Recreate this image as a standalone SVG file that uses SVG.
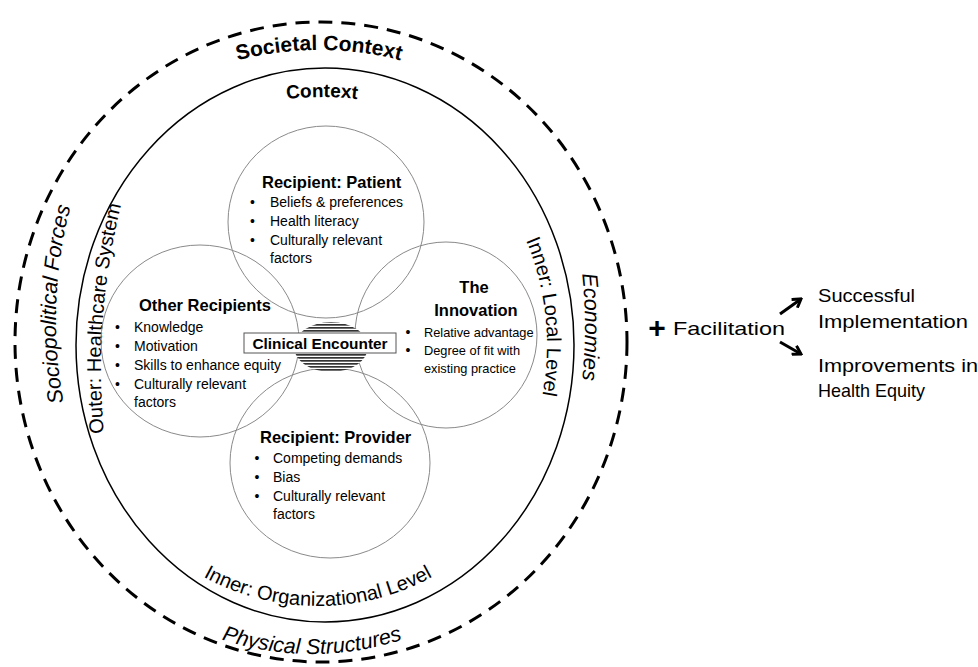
<svg xmlns="http://www.w3.org/2000/svg" width="978" height="667" viewBox="0 0 978 667">
<style>
  text { font-family: "Liberation Sans", Arial, sans-serif; fill: #000; }
  .hd { font-weight: bold; font-size: 16.5px; }
  .bl { font-size: 14px; }
  .sm { font-size: 12.8px; }
  .ring { fill: none; stroke: #8a8a8a; stroke-width: 1; }
  .lvl { font-size: 20px; }
  .it { font-style: italic; font-size: 21.5px; }
  .out { font-size: 19px; }
  .link { stroke: #000; stroke-width: 3; fill: none; marker-end: url(#chev); }
</style>
<defs>
  <pattern id="stripes" width="6" height="3" patternUnits="userSpaceOnUse">
    <rect width="6" height="3" fill="#ffffff"/>
    <rect width="6" height="1.7" fill="#333333"/>
  </pattern>
  <marker id="chev" viewBox="0 0 12 12" refX="10" refY="6" markerWidth="12" markerHeight="12" markerUnits="userSpaceOnUse" orient="auto">
    <path d="M2,1 L10,6 L2,11" fill="none" stroke="#000" stroke-width="3"/>
  </marker>
  <!-- baselines for the curved labels -->
  <path id="p-societal" d="M 219,65.7 A 326 326 0 0 1 419,65.7"/>
  <path id="p-context" d="M 262,103.1 A 300 300 0 0 1 382,103.1"/>
  <path id="p-socio" d="M 75.2,450 A 450 450 0 0 1 85.4,160"/>
  <path id="p-outer" d="M 108.3,470 A 689 689 0 0 1 133.8,160"/>
  <path id="p-local" d="M 498.7,190 A 273 273 0 0 1 526,450"/>
  <path id="p-econ" d="M 568.6,200 A 500 500 0 0 1 568.6,454"/>
  <path id="p-org" d="M 168,553.3 A 240 240 0 0 0 468,553.3"/>
  <path id="p-phys" d="M 162,612.2 A 290 290 0 0 0 462,612.2"/>
</defs>

<rect width="978" height="667" fill="#ffffff"/>

<!-- outer ring: societal context -->
<g id="societal-context">
  <ellipse cx="321" cy="342" rx="306" ry="320" fill="none" stroke="#000" stroke-width="3" stroke-dasharray="14 9"/>
  <text font-weight="bold" font-size="21px"><textPath href="#p-societal" startOffset="50%" text-anchor="middle">Societal Context</textPath></text>
  <text class="it"><textPath href="#p-socio" startOffset="50%" text-anchor="middle">Sociopolitical Forces</textPath></text>
  <text class="it" font-size="22px"><textPath href="#p-econ" startOffset="50%" text-anchor="middle">Economies</textPath></text>
  <text class="it" font-size="22px"><textPath href="#p-phys" startOffset="50%" text-anchor="middle">Physical Structures</textPath></text>
</g>

<!-- inner ring: context -->
<g id="context">
  <ellipse cx="325" cy="345" rx="249" ry="277" fill="none" stroke="#000" stroke-width="1.5"/>
  <text font-weight="bold" font-size="19px"><textPath href="#p-context" startOffset="50%" text-anchor="middle">Context</textPath></text>
  <text class="lvl" font-size="19.5px"><textPath href="#p-outer" startOffset="48.5%" text-anchor="middle">Outer: Healthcare System</textPath></text>
  <text class="lvl" font-size="20.5px"><textPath href="#p-local" startOffset="50%" text-anchor="middle">Inner: Local Level</textPath></text>
  <text class="lvl"><textPath href="#p-org" startOffset="50%" text-anchor="middle">Inner: Organizational Level</textPath></text>
</g>

<g id="recipient-patient">
  <ellipse class="ring" cx="326" cy="222" rx="98" ry="96"/>
  <text class="hd" x="262" y="188">Recipient: Patient</text>
  <text class="bl" x="250" y="207">•</text><text class="bl" x="270" y="207">Beliefs &amp; preferences</text>
  <text class="bl" x="250" y="226">•</text><text class="bl" x="270" y="226">Health literacy</text>
  <text class="bl" x="250" y="245">•</text><text class="bl" x="270" y="245">Culturally relevant</text>
  <text class="bl" x="270" y="263">factors</text>
</g>

<g id="other-recipients">
  <ellipse class="ring" cx="200" cy="341" rx="99" ry="96"/>
  <text class="hd" x="139" y="311">Other Recipients</text>
  <text class="bl" x="115" y="332">•</text><text class="bl" x="134" y="332">Knowledge</text>
  <text class="bl" x="115" y="351">•</text><text class="bl" x="134" y="351">Motivation</text>
  <text class="bl" x="115" y="370">•</text><text class="bl" x="134" y="370">Skills to enhance equity</text>
  <text class="bl" x="115" y="389">•</text><text class="bl" x="134" y="389">Culturally relevant</text>
  <text class="bl" x="134" y="407">factors</text>
</g>

<g id="the-innovation">
  <ellipse class="ring" cx="446" cy="335" rx="91" ry="93"/>
  <text class="hd" font-size="16px" x="474" y="293" text-anchor="middle">The</text>
  <text class="hd" font-size="16px" x="476" y="316" text-anchor="middle">Innovation</text>
  <text class="bl" x="405.5" y="337">•</text><text class="sm" x="424" y="337">Relative advantage</text>
  <text class="bl" x="405.5" y="355">•</text><text class="sm" x="424" y="355">Degree of fit with</text>
  <text class="sm" x="424" y="373">existing practice</text>
</g>

<g id="recipient-provider">
  <ellipse class="ring" cx="330" cy="463" rx="100" ry="95"/>
  <text class="hd" x="260" y="443">Recipient: Provider</text>
  <text class="bl" x="254.5" y="463">•</text><text class="bl" x="273" y="463">Competing demands</text>
  <text class="bl" x="254.5" y="482">•</text><text class="bl" x="273" y="482">Bias</text>
  <text class="bl" x="254.5" y="501">•</text><text class="bl" x="273" y="501">Culturally relevant</text>
  <text class="bl" x="273" y="519">factors</text>
</g>

<g id="clinical-encounter">
  <ellipse cx="331" cy="347" rx="37" ry="25" fill="url(#stripes)"/>
  <rect x="244" y="333" width="152" height="20" fill="#ffffff" stroke="#555" stroke-width="1"/>
  <text font-weight="bold" font-size="15.4px" x="320" y="348.5" text-anchor="middle">Clinical Encounter</text>
</g>

<g id="facilitation">
  <text font-size="30px" font-weight="bold" x="657" y="338" text-anchor="middle">+</text>
  <text class="out" x="673" y="335" textLength="112" lengthAdjust="spacingAndGlyphs">Facilitation</text>
</g>

<g id="successful-implementation">
  <text class="out" x="818" y="302" textLength="97" lengthAdjust="spacingAndGlyphs">Successful</text>
  <text class="out" x="818" y="328" textLength="150" lengthAdjust="spacingAndGlyphs">Implementation</text>
</g>

<g id="health-equity">
  <text class="out" x="818" y="372" textLength="160" lengthAdjust="spacingAndGlyphs">Improvements in</text>
  <text class="out" x="818" y="397" textLength="107" lengthAdjust="spacingAndGlyphs">Health Equity</text>
</g>

<g id="connectors">
  <line class="link" x1="780" y1="314" x2="801" y2="299"/>
  <line class="link" x1="780" y1="342" x2="801" y2="354"/>
</g>
</svg>
